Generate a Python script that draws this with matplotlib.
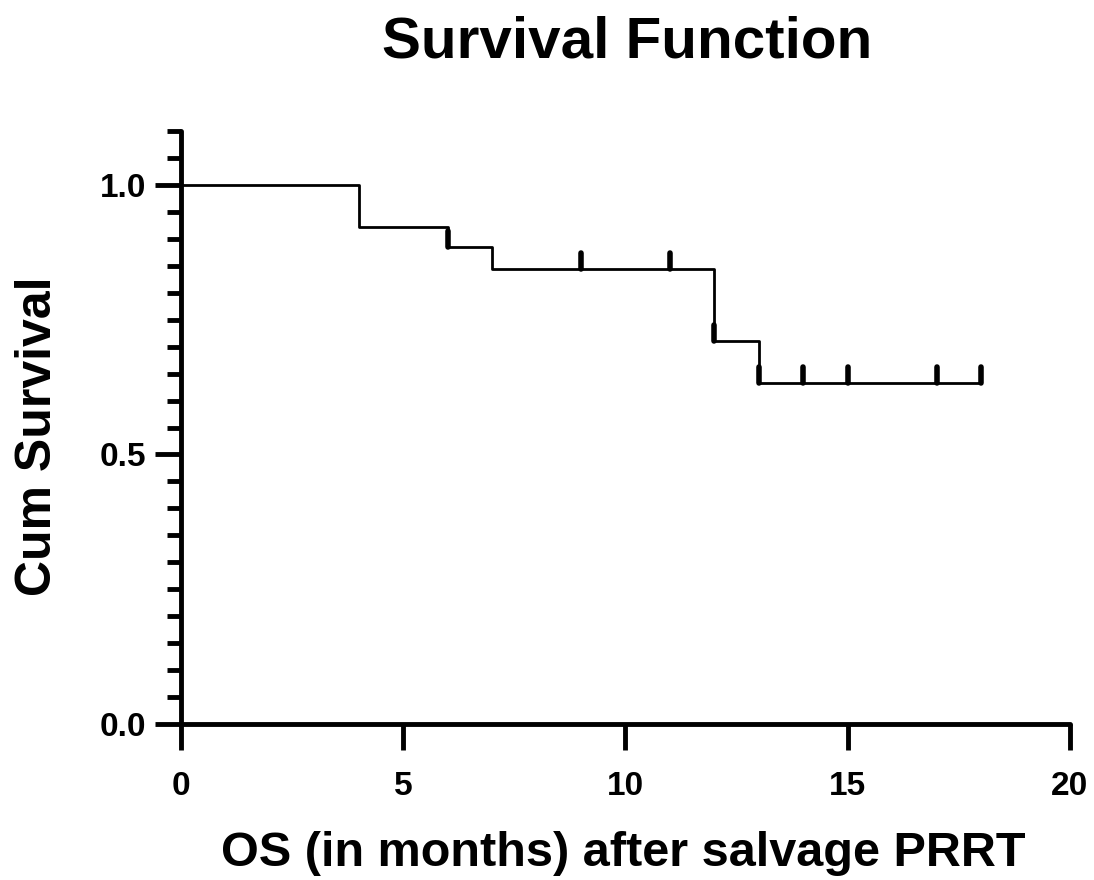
import numpy as np
import matplotlib.pyplot as plt

# Kaplan-Meier steps
tiempos = [0, 4, 6, 7, 12, 13, 18]
supervivencia = [1.0, 0.923, 0.885, 0.844, 0.710, 0.632, 0.632]

# censored cases (time, level)
censura_t = [6, 9, 11, 12, 13, 14, 15, 17, 18]
censura_s = [0.885, 0.844, 0.844, 0.710, 0.632, 0.632, 0.632, 0.632, 0.632]

x_ticks = [0, 5, 10, 15, 20]
y_ticks = [0.0, 0.5, 1.0]
y_labels = ['0.0', '0.5', '1.0']

plt.rcParams['font.family'] = ['Liberation Sans', 'DejaVu Sans']
plt.rcParams['font.weight'] = 'bold'

fig = plt.figure(figsize=(10.94, 8.8), dpi=100)
ax = fig.add_axes([0.1655, 0.1773, 0.978 - 0.1655, 0.851 - 0.1773])

ax.step(tiempos, supervivencia, where='post', color='black', linewidth=2.0)
ax.vlines(censura_t, censura_s, np.array(censura_s) + 0.03,
          color='black', linewidth=4, capstyle='round')

ax.set_xlim(0, 20)
ax.set_ylim(0, 1.1)
ax.spines['top'].set_visible(False)
ax.spines['right'].set_visible(False)
for s in ['left', 'bottom']:
    ax.spines[s].set_linewidth(3.5)
    ax.spines[s].set_capstyle('round')

ax.set_xticks(x_ticks)
ax.set_xticklabels([str(t) for t in x_ticks], fontsize=24, fontweight='bold')
ax.set_yticks(y_ticks)
ax.set_yticklabels(y_labels, fontsize=24, fontweight='bold')
ax.set_yticks(np.arange(0, 1.101, 0.05), minor=True)
ax.tick_params(axis='x', length=19, width=3.5, pad=15)
ax.tick_params(axis='y', which='major', length=19, width=3.5, pad=6)
ax.tick_params(axis='y', which='minor', length=10, width=3.5)

ax.set_xlabel('OS (in months) after salvage PRRT', fontsize=35, fontweight='bold', va='baseline')
ax.xaxis.set_label_coords(0.497, (724 - 866) / 593)
ax.set_ylabel('Cum Survival', fontsize=36, fontweight='bold', va='center')
ax.yaxis.set_label_coords((38 - 181) / 889, 0.486)
fig.suptitle('Survival Function', fontsize=42, fontweight='bold', x=0.573, y=1 - 58 / 880, va='baseline')

plt.savefig('out.png', dpi=100)
